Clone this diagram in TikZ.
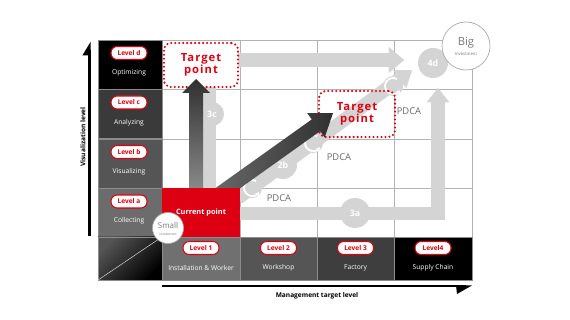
\documentclass[tikz,border=0pt]{standalone}
\usepackage{fontspec}
\setmainfont{Open Sans}
\usepackage{tikz}
\usetikzlibrary{arrows.meta, shapes}
\definecolor{redmark}{RGB}{220, 0, 18}
\definecolor{lightband}{RGB}{212, 212, 212}
\definecolor{gridline}{RGB}{178, 178, 178}
\definecolor{cellline}{RGB}{140, 140, 140}
\definecolor{levelc}{RGB}{58, 58, 58}
\definecolor{levelb}{RGB}{85, 85, 85}
\definecolor{levela}{RGB}{108, 108, 108}
\definecolor{levelone}{RGB}{112, 112, 112}
\definecolor{leveltwo}{RGB}{85, 85, 85}
\definecolor{levelthree}{RGB}{62, 62, 62}
\definecolor{pdcagray}{RGB}{105, 105, 105}
\definecolor{investline}{RGB}{170, 170, 170}
\definecolor{investtext}{RGB}{120, 120, 120}
\definecolor{darkhi}{RGB}{48, 48, 48}
\definecolor{darkmid}{RGB}{105, 105, 105}
\definecolor{darklo}{RGB}{138, 138, 138}

\tikzset{
    gridrule/.style={draw=gridline, line width=0.6pt},
    levelcell/.style={rectangle, draw=cellline, line width=0.4pt, inner sep=0pt, minimum width=1.92cm, minimum height=1.47cm},
    bottomcell/.style={rectangle, draw=cellline, line width=0.4pt, inner sep=0pt, minimum width=2.325cm, minimum height=1.29cm},
    levelpill/.style={rectangle, draw=redmark, fill=white, rounded corners=5.3pt, line width=0.9pt, inner sep=0pt, minimum width=1.08cm, minimum height=0.39cm, text=redmark, font=\fontsize{5.6}{6}\selectfont\bfseries},
    celltext/.style={text=white, inner sep=0pt, font=\fontsize{5.7}{6}\selectfont},
    band/.style={draw=lightband, line width=11.5pt},
    bandnum/.style={circle, fill=lightband, text=white, inner sep=0pt, font=\fontsize{7.5}{8}\selectfont\bfseries},
    pdcaicon/.style={circle, fill=lightband, inner sep=0pt, minimum size=0.6cm},
    cycring/.style={draw=white, line width=1.6pt, -{Stealth[length=3.5pt, width=5pt]}},
    pdcatext/.style={text=pdcagray, inner sep=0pt, font=\fontsize{8}{9}\selectfont},
    targetbox/.style={rectangle, draw=redmark, line width=2pt, dash pattern=on 0pt off 3.4pt, line cap=round, rounded corners=6pt, align=center, text=redmark, font=\fontsize{9.6}{10.6}\selectfont\bfseries\addfontfeature{LetterSpace=9}},
    invest/.style={circle, draw=investline, fill=white, line width=0.6pt, inner sep=0pt},
    axistext/.style={inner sep=0pt, font=\fontsize{5.6}{6}\selectfont\bfseries},
}

\begin{document}
\begin{tikzpicture}[x=0.03cm, y=-0.03cm]
    % Nền trắng, khung 570x320
    \fill[white] (0,0) rectangle (570,320);
    \useasboundingbox (0,0) rectangle (570,320);

    % Lưới các ô trắng
    \draw[gridrule] (162,40) rectangle (472,237);
    \draw[gridrule] (240,40) -- (240,237);
    \draw[gridrule] (317,40) -- (317,237);
    \draw[gridrule] (394,40) -- (394,237);
    \draw[gridrule] (162,89) -- (472,89);
    \draw[gridrule] (162,139) -- (472,139);
    \draw[gridrule] (162,188) -- (472,188);

    % Cột trái: các mức hiển thị
    \node[levelcell, fill=black] (celld) at (130,64.5) {};
    \node[levelpill] (pilld) at (129,53) {Level d};
    \node[celltext] (textd) at (129,73) {Optimizing};
    \node[levelcell, fill=levelc] (cellc) at (130,114) {};
    \node[levelpill] (pillc) at (129,102.5) {Level c};
    \node[celltext] (textc) at (129,122.5) {Analyzing};
    \node[levelcell, fill=levelb] (cellb) at (130,163.5) {};
    \node[levelpill] (pillb) at (129,152) {Level b};
    \node[celltext] (textb) at (129,172) {Visualizing};
    \node[levelcell, fill=levela] (cella) at (130,212.5) {};
    \node[levelpill] (pilla) at (129,201.5) {Level a};
    \node[celltext] (texta) at (129,221) {Collecting};

    % Ô góc dưới trái, tô chuyển màu và đường chéo
    \node[levelcell, minimum height=1.29cm, top color=levelb, bottom color=black, shading angle=45] (corner) at (130,258.5) {};
    \draw[white!75!gray, line width=0.4pt] (corner.south west) -- (corner.north east);

    % Hàng dưới: các mức quản lý
    \node[bottomcell, fill=levelone] (cellone) at (201,258.5) {};
    \node[levelpill] (pillone) at (201,248) {Level 1};
    \node[celltext] (textone) at (201,267.5) {Installation \& Worker};
    \node[bottomcell, fill=leveltwo] (celltwo) at (278.5,258.5) {};
    \node[levelpill] (pilltwo) at (278.5,248) {Level 2};
    \node[celltext] (texttwo) at (278.5,267.5) {Workshop};
    \node[bottomcell, fill=levelthree] (cellthree) at (355.5,258.5) {};
    \node[levelpill] (pillthree) at (355.5,248) {Level 3};
    \node[celltext] (textthree) at (355.5,267.5) {Factory};
    \node[bottomcell, fill=black] (cellfour) at (433,258.5) {};
    \node[levelpill] (pillfour) at (433,248) {Level4};
    \node[celltext] (textfour) at (433,267.5) {Supply Chain};

    % Các dải xám nhạt (lộ trình 3c, 3a, 2b)
    \coordinate (c3start) at (209,188);
    \coordinate (c3end) at (404,60);
    \draw[band, -{Triangle[width=22pt, length=13pt, line width=0.01pt]}] (c3start) |- (c3end);
    \coordinate (a3start) at (240,213.5);
    \coordinate (a3end) at (438,88);
    \draw[band, -{Triangle[width=19pt, length=12pt, line width=0.01pt]}] (a3start) -| (a3end);
    \coordinate (b2start) at (238,198);
    \coordinate (b2end) at (412,70);
    \draw[band, -{Triangle[width=19pt, length=13pt, line width=0.01pt]}] (b2start) -- (b2end);

    % Vòng tròn đánh số trên các dải
    \node[bandnum, minimum size=0.72cm] (n3c) at (212,114) {3c};
    \node[bandnum, minimum size=0.84cm] (n2b) at (283,165) {2b};
    \node[bandnum, minimum size=0.9cm] (n3a) at (355,213) {3a};
    \node[bandnum, minimum size=0.9cm] (n4d) at (433,63) {4d};

    % Biểu tượng vòng PDCA
    \node[pdcaicon] (cyc1) at (252,188) {};
    \draw[cycring] ([shift={(-60:8)}]cyc1.center) arc[start angle=-60, end angle=-330, radius=8];
    \node[pdcaicon] (cyc2) at (313,143) {};
    \draw[cycring] ([shift={(-60:8)}]cyc2.center) arc[start angle=-60, end angle=-330, radius=8];
    \node[pdcaicon] (cyc3) at (393,86) {};
    \draw[cycring] ([shift={(-60:8)}]cyc3.center) arc[start angle=-60, end angle=-330, radius=8];
    \node[pdcatext] (pdca1) at (279,198) {PDCA};
    \node[pdcatext] (pdca2) at (339,157) {PDCA};
    \node[pdcatext] (pdca3) at (409,111) {PDCA};

    % Ô "Target point" thứ nhất, nền trắng
    \node[targetbox, fill=white, minimum width=2.22cm, minimum height=1.32cm] (target1) at (201,65) {Target\\point};
    % Ô "Target point" thứ hai, không tô
    \node[targetbox, minimum width=2.28cm, minimum height=1.38cm] (target2) at (357,114) {Target\\point};

    % Mũi tên đậm thẳng đứng
    \shade[top color=darkhi, bottom color=darklo] (189,190) -- (189,93) -- (182,93) -- (196,79) -- (210,93) -- (203,93) -- (203,190) -- cycle;
    % Mũi tên đậm chéo
    \begin{scope}[shift={(228,188)}, rotate=35.5]
        \shade[left color=darkmid, right color=darkhi] (-14,-7.2) -- (108,-7.2) -- (108,-15) -- (129,0) -- (108,15) -- (108,7.2) -- (-14,7.2) -- cycle;
    \end{scope}

    % Ô đỏ "Current point"
    \node[rectangle, fill=redmark, inner sep=0pt, minimum width=2.34cm, minimum height=1.47cm, text=white, font=\fontsize{6.3}{7}\selectfont\bfseries] (current) at (201,212.5) {Current point};

    % Vòng đầu tư nhỏ và lớn
    \node[invest, minimum size=0.93cm] (small) at (168,228) {};
    \node[text=investtext, inner sep=0pt, font=\fontsize{6.8}{7}\selectfont] (smalltxt) at (168,226) {Small};
    \node[text=investtext, inner sep=0pt, font=\fontsize{2.8}{3}\selectfont] (smallsub) at (168,234) {investment};
    \node[invest, minimum size=1.44cm] (big) at (466,46) {};
    \node[text=investtext, inner sep=0pt, font=\fontsize{9.6}{10}\selectfont] (bigtxt) at (466,43) {Big};
    \node[text=investtext, inner sep=0pt, font=\fontsize{3.6}{4}\selectfont] (bigsub) at (466,54) {Investment};

    % Trục đứng và trục ngang
    \coordinate (vaxbot) at (89.5,236);
    \coordinate (vaxtop) at (89.5,50);
    \draw[line width=1.8pt] (vaxbot) -- (vaxtop);
    \fill (90.7,41.7) -- (90.7,55.5) -- (82.3,55.5) -- cycle;
    \coordinate (haxleft) at (162,286.4);
    \coordinate (haxright) at (466,286.4);
    \draw[line width=1.8pt] (haxleft) -- (haxright);
    \fill (472,285.4) -- (456,285.4) -- (457,294) -- cycle;
    \node[axistext, rotate=90] (vlabel) at (83,137) {Visualization level};
    \node[axistext] (hlabel) at (317,296) {Management target level};
\end{tikzpicture}
\end{document}
